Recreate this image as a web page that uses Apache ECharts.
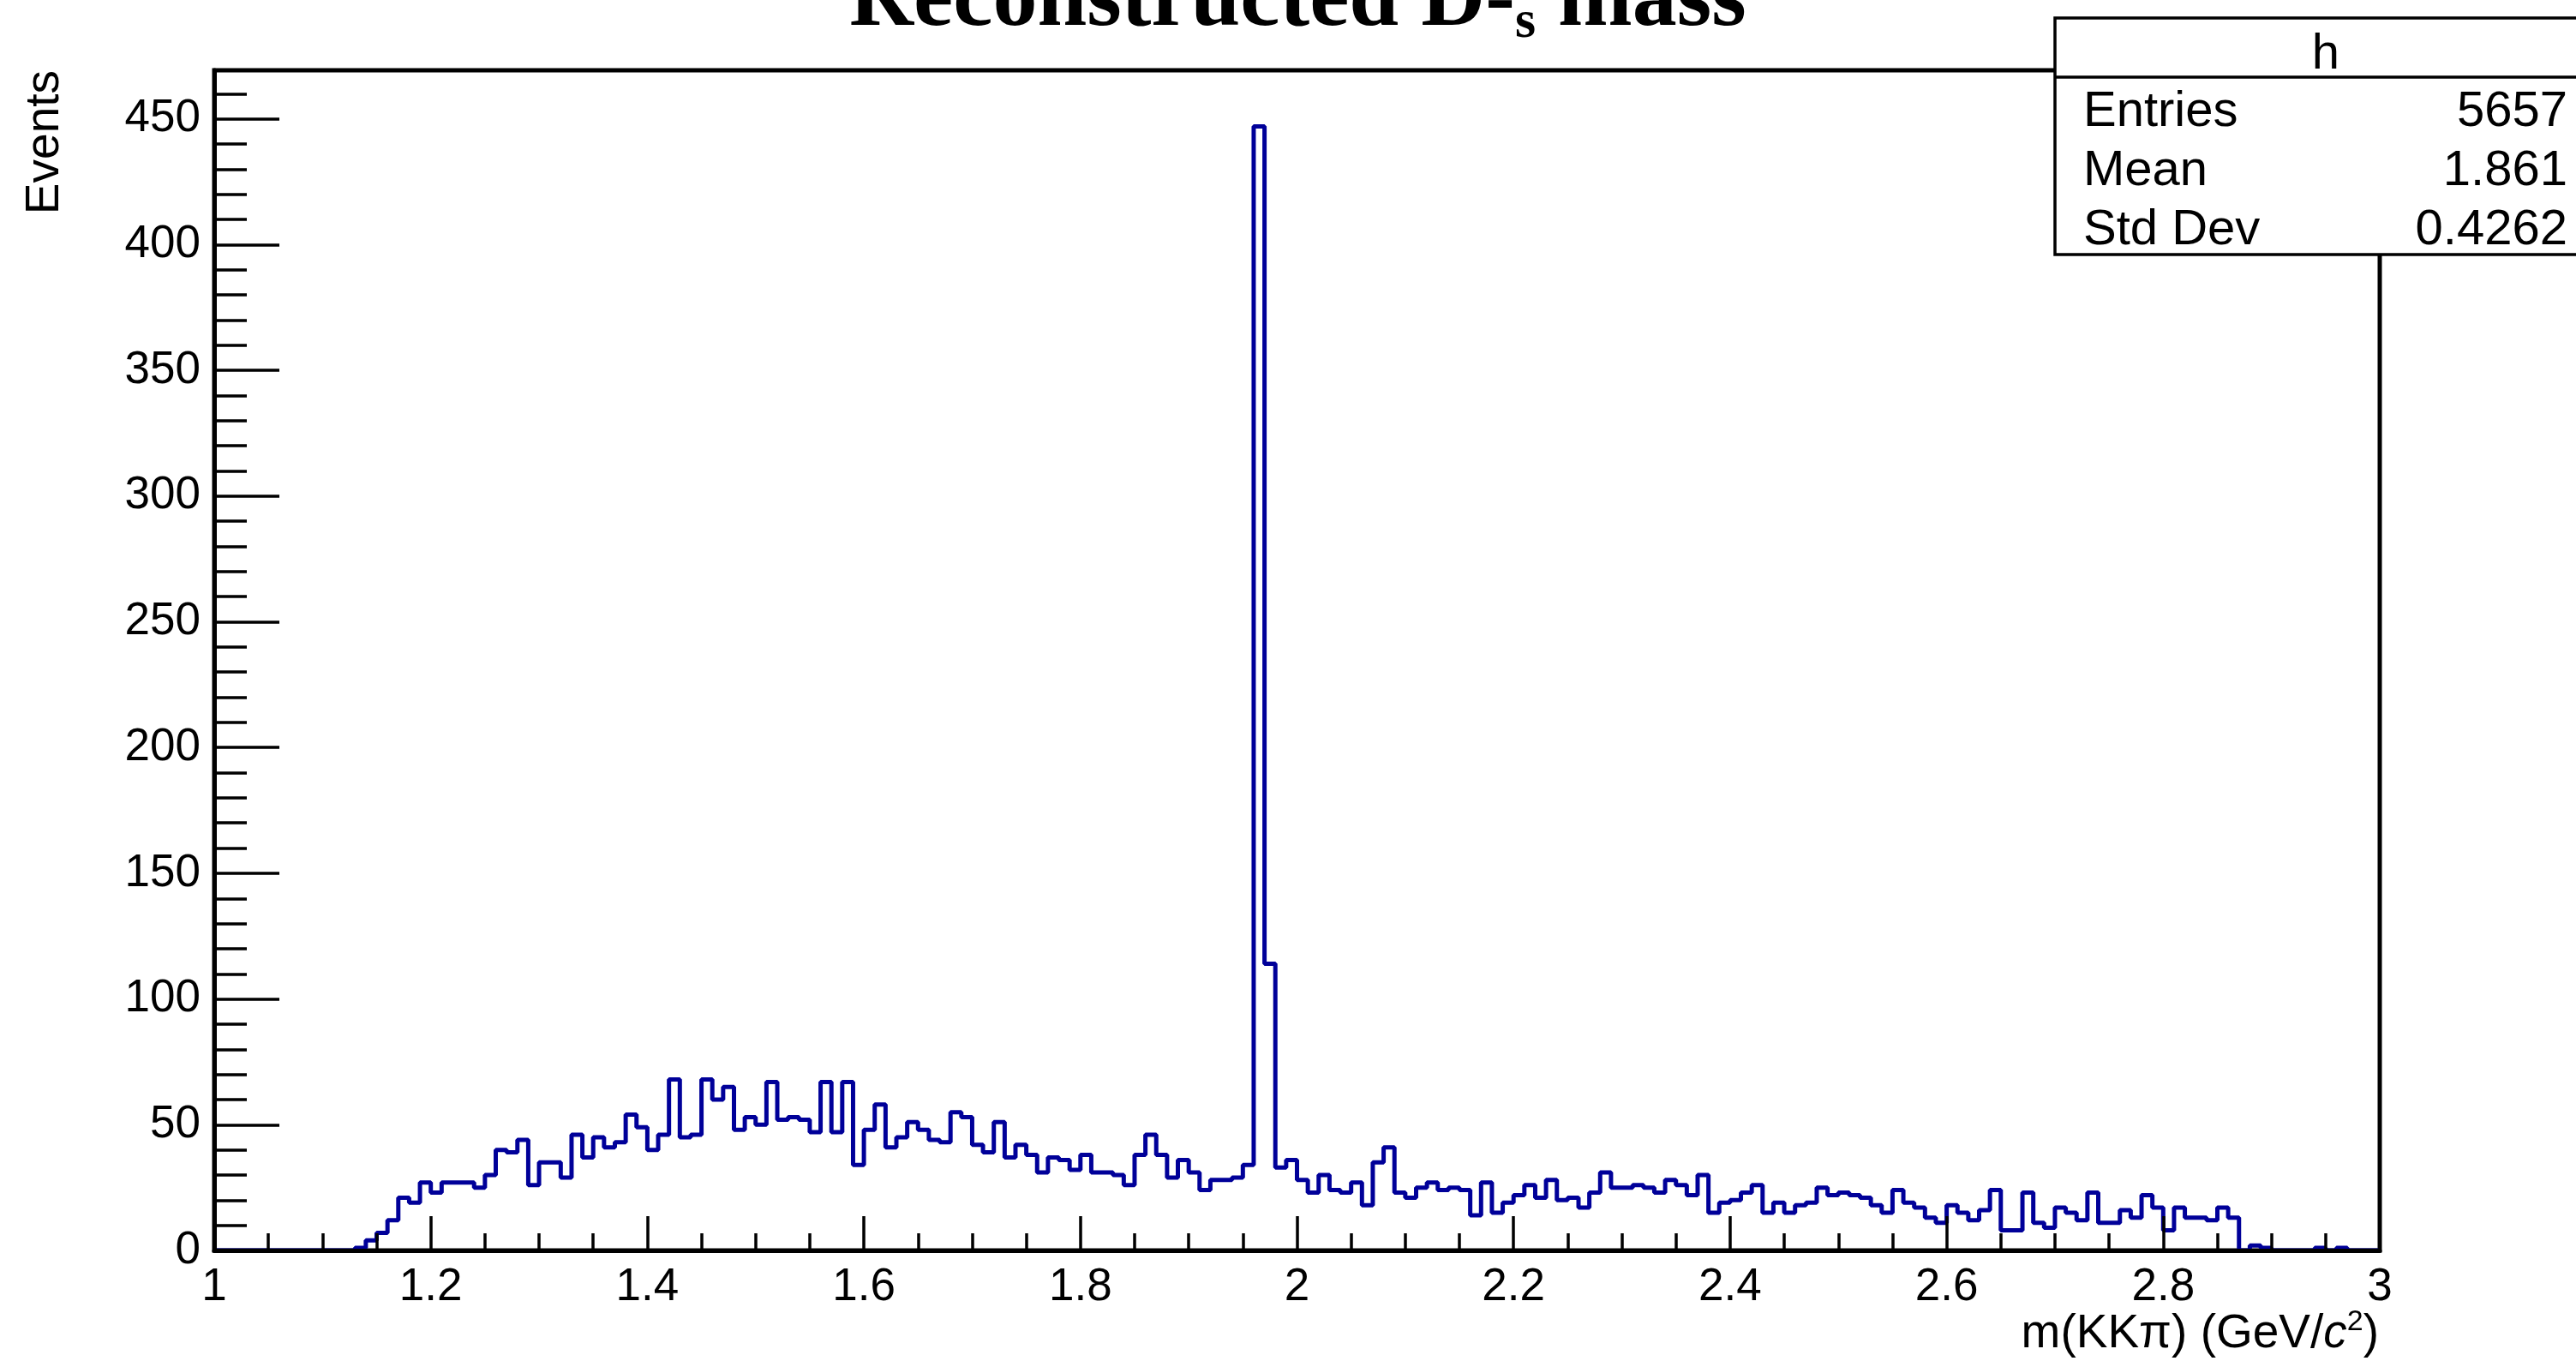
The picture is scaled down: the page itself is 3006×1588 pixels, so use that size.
<!DOCTYPE html>
<html>
<head>
<meta charset="utf-8">
<title>Reconstructed Ds mass</title>
<script src="https://cdn.jsdelivr.net/npm/echarts@6/dist/echarts.min.js"></script>
<style>
  html, body { margin: 0; padding: 0; background: #fff; }
  #chart { width: 3006px; height: 1588px; }
</style>
</head>
<body>
<div id="chart"></div>
<script>
// histogram "h": 200 bins between 1 and 3 GeV/c^2
const binLow = 1.0;
const binWidth = 0.01;
const counts = [
  0, 0, 0, 0, 0, 0, 0, 0, 0, 0,    0, 0, 0, 1, 4, 7, 12, 21, 19, 27,
  23, 27, 27, 27, 25, 30, 40, 39, 44, 26,    35, 35, 29, 46, 37, 45, 41, 43, 54, 49,
  40, 46, 68, 45, 46, 68, 60, 65, 48, 53,    50, 67, 52, 53, 52, 47, 67, 47, 67, 34,
  48, 58, 41, 45, 51, 48, 44, 43, 55, 53,    42, 39, 51, 37, 42, 38, 31, 37, 36, 32,
  38, 31, 31, 30, 26, 38, 46, 38, 29, 36,    31, 24, 28, 28, 29, 34, 447, 114, 33, 36,
  28, 23, 30, 24, 23, 27, 18, 35, 41, 23,    21, 25, 27, 24, 25, 24, 14, 27, 15, 19,
  22, 26, 21, 28, 20, 21, 17, 23, 31, 25,    25, 26, 25, 23, 28, 26, 22, 30, 15, 19,
  20, 23, 26, 15, 19, 15, 18, 19, 25, 22,    23, 22, 21, 18, 15, 24, 19, 17, 13, 11,
  18, 15, 12, 16, 24, 8, 8, 23, 11, 9,    17, 15, 12, 23, 11, 11, 16, 13, 22, 17,
  8, 17, 13, 13, 12, 17, 13, 0, 2, 1,    0, 0, 0, 0, 1, 0, 1, 0, 0, 0
];
const statsRows = [
  ['Entries', '5657'],
  ['Mean', '1.861'],
  ['Std Dev', '0.4262']
];
const xLabels = ['1', '1.2', '1.4', '1.6', '1.8', '2', '2.2', '2.4', '2.6', '2.8', '3'];
const yLabels = ['0', '50', '100', '150', '200', '250', '300', '350', '400', '450'];

const sans = 'Liberation Sans';
const serif = 'Liberation Serif';

// step outline: one point per low edge plus the last upper edge
const points = counts.map((c, i) => [binLow + i * binWidth, c]);
points.push([binLow + counts.length * binWidth, counts[counts.length - 1]]);

const xMin = 1, xMax = 3;
const yMax = 469.35; // 1.05 * peak, as ROOT does

const chart = echarts.init(document.getElementById('chart'));

const statsGraphics = [
  { type: 'rect', z: 100, shape: { x: 2398, y: 21, width: 700, height: 276 },
    style: { fill: '#fff', stroke: '#000', lineWidth: 3.5 } },
  { type: 'line', z: 101, shape: { x1: 2398, y1: 90, x2: 3006, y2: 90 },
    style: { stroke: '#000', lineWidth: 3.5 } },
  { type: 'text', z: 101, x: 2714, y: 64,
    style: { text: 'h', fontFamily: sans, fontSize: 58, fill: '#000', align: 'center', verticalAlign: 'middle' } }
];
const rowY = [131, 200, 269];
statsRows.forEach((r, i) => {
  statsGraphics.push({ type: 'text', z: 101, x: 2431, y: rowY[i],
    style: { text: r[0], fontFamily: sans, fontSize: 58, fill: '#000', align: 'left', verticalAlign: 'middle' } });
  statsGraphics.push({ type: 'text', z: 101, x: 2996, y: rowY[i],
    style: { text: r[1], fontFamily: sans, fontSize: 58, fill: '#000', align: 'right', verticalAlign: 'middle' } });
});

const option = {
  animation: false,
  backgroundColor: '#fff',
  title: {
    text: 'Reconstructed D-{sub|s} mass',
    left: 991,
    top: -50,
    padding: 0,
    textStyle: {
      fontFamily: serif, fontWeight: 'bold', fontSize: 104, color: '#000', lineHeight: 104,
      rich: {
        sub: { fontFamily: serif, fontWeight: 'bold', fontSize: 62, lineHeight: 62,
               verticalAlign: 'top', padding: [46, 0, 0, 0], color: '#000' }
      }
    }
  },
  grid: {
    left: 250, right: 229, top: 82, bottom: 129,
    show: true, borderColor: '#000', borderWidth: 5, backgroundColor: 'transparent'
  },
  xAxis: {
    type: 'value', min: xMin, max: xMax, interval: 0.2, z: 5,
    axisLine: { onZero: false, lineStyle: { color: '#000', width: 5 } },
    axisTick: { inside: true, length: 40, lineStyle: { color: '#000', width: 3.5 } },
    minorTick: { show: true, splitNumber: 4, length: 20, lineStyle: { color: '#000', width: 3.5 } },
    splitLine: { show: false },
    axisLabel: {
      color: '#000', fontFamily: sans, fontSize: 53, margin: 17,
      formatter: v => xLabels[Math.round((v - xMin) / 0.2)] || ''
    }
  },
  yAxis: [
    {
      type: 'value', min: 0, max: yMax, interval: 50, position: 'left', z: 5,
      axisLine: { show: true, lineStyle: { color: '#000', width: 5 } },
      axisTick: { show: true, inside: true, length: 76, lineStyle: { color: '#000', width: 3.5 } },
      splitLine: { show: false },
      axisLabel: {
        color: '#000', fontFamily: sans, fontSize: 53, margin: 16,
        formatter: v => (Math.abs(v % 50) < 1e-6 ? (yLabels[Math.round(v / 50)] || '') : '')
      }
    },
    {
      // minor ticks every 10
      type: 'value', min: 0, max: yMax, interval: 10, position: 'left', z: 5,
      axisLine: { show: false },
      axisTick: { show: true, inside: true, length: 38, lineStyle: { color: '#000', width: 3.5 } },
      splitLine: { show: false },
      axisLabel: { show: false }
    }
  ],
  series: [{
    type: 'line',
    step: 'end',
    data: points,
    symbol: 'none',
    xAxisIndex: 0,
    yAxisIndex: 0,
    lineStyle: { color: '#000099', width: 5 },
    z: 2
  }],
  graphic: statsGraphics.concat([
    { type: 'text', z: 50, x: 53, y: 82, rotation: Math.PI / 2,
      style: { text: 'Events', fontFamily: sans, fontSize: 55, fill: '#000', align: 'right', verticalAlign: 'middle' } },
    { type: 'text', z: 50, x: 2776, y: 1557,
      style: {
        text: 'm(KKπ) (GeV/{i|c}{sup|2})',
        fontFamily: sans, fontSize: 55, fill: '#000', align: 'right', verticalAlign: 'middle',
        rich: {
          i: { fontFamily: sans, fontSize: 55, fontStyle: 'italic', fill: '#000' },
          sup: { fontFamily: sans, fontSize: 34, fill: '#000', verticalAlign: 'top', lineHeight: 62 }
        }
      } }
  ])
};

chart.setOption(option);
</script>
</body>
</html>
